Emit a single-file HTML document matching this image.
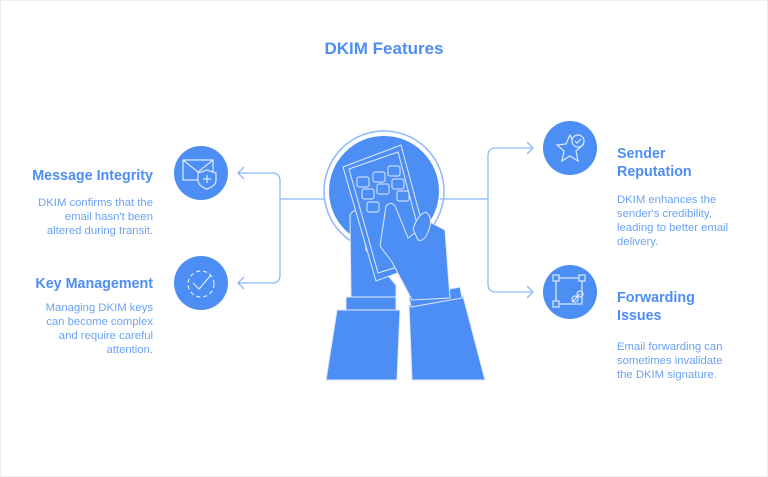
<!DOCTYPE html>
<html><head><style>
body{margin:0;width:768px;height:477px;background:#fff;overflow:hidden;font-family:"Liberation Sans",sans-serif}
svg{position:absolute;left:0;top:0}
</style></head><body>
<svg width="768" height="477" viewBox="0 0 768 477">
<rect x="0.5" y="0.5" width="767" height="476" fill="none" stroke="#eeeeee"/>
<text x="384" y="54" text-anchor="middle" font-size="17" font-weight="bold" fill="#4d8ef5">DKIM Features</text>
<g fill="none" stroke="#8db8fa" stroke-width="1.3">
<path d="M325 199H280M238 173H272Q280 173 280 181V275Q280 283 272 283H238"/>
<path d="M244 167L238 173L244 179M244 277L238 283L244 289"/>
<path d="M440 199H488M533 148H496Q488 148 488 156V284Q488 292 496 292H533"/>
<path d="M527 142L533 148L527 154M527 286L533 292L527 298"/>
</g>
<g fill="#4d8ef5">
<circle cx="201" cy="173" r="27"/><circle cx="201" cy="283" r="27"/>
<circle cx="570" cy="148" r="27"/><circle cx="570" cy="292" r="27"/>
</g>
<g fill="none" stroke="#dfeafe" stroke-width="1.2">
<rect x="183" y="160" width="30" height="20"/><path d="M183 160L198 172L213 160"/>
<path d="M207 170l9 3v7q0 6-9 9q-9-3-9-9v-7z" fill="#4d8ef5"/><path d="M207 175v8M203 179h8"/>
<circle cx="201" cy="284" r="13" stroke-dasharray="4 3"/><path d="M193 283l6 6l12-14"/>
<path d="M570 135l4 9l9 1l-7 6l2 10l-8-5l-8 5l2-10l-7-6l9-1z"/><circle cx="578" cy="141" r="6" fill="#4d8ef5"/><path d="M575 141l2 2l4-4"/>
<rect x="556" y="278" width="26" height="26"/><path d="M572 302l6-6M576 298l4-4"/><circle cx="575" cy="299" r="3"/><circle cx="580" cy="294" r="3"/>
</g>
<g fill="#4d8ef5" stroke="#dfeafe" stroke-width="1.2">
<rect x="553" y="275" width="6" height="6"/><rect x="579" y="275" width="6" height="6"/><rect x="553" y="301" width="6" height="6"/>
</g>
<circle cx="384" cy="191" r="60" fill="none" stroke="#8db8fa" stroke-width="1.5"/>
<circle cx="384" cy="191" r="55" fill="#4d8ef5"/>
<g fill="#4d8ef5" stroke="#dfeafe" stroke-width="1">
<path d="M326 380L337 310H400L397 380Z"/>
<path d="M412 380L409 305L463 296L485 380Z"/>
<path d="M346 297H396V310H346Z"/>
<path d="M409 297L460 287L462 298L411 307Z"/>
<path d="M350 215Q356 206 362 214L366 250L396 285L396 297H351Z"/>
<path d="M343 167L401 145L432 260L376 281Z"/>
<path d="M349 169L398 152L426 258L378 273Z" fill="none"/>
<path d="M386 206Q392 200 396 208L408 238L430 222L445 230L450 298L412 300L392 262L380 246Z"/>
<path d="M413 229Q418 214 426 212Q434 218 428 232Q424 242 418 240Z"/>
</g>
<g fill="none" stroke="#dfeafe" stroke-width="1">
<rect x="357" y="177" width="12" height="10" rx="2"/><rect x="373" y="172" width="12" height="10" rx="2"/><rect x="388" y="166" width="12" height="10" rx="2"/>
<rect x="362" y="189" width="12" height="10" rx="2"/><rect x="377" y="184" width="12" height="10" rx="2"/><rect x="392" y="179" width="12" height="10" rx="2"/>
<rect x="367" y="202" width="12" height="10" rx="2"/><rect x="397" y="191" width="12" height="10" rx="2"/>
</g>
<g font-size="14.3" font-weight="bold" fill="#4d8ef5">
<text x="153" y="180" text-anchor="end">Message Integrity</text>
<text x="153" y="288" text-anchor="end">Key Management</text>
<text x="617" y="158">Sender</text><text x="617" y="176">Reputation</text>
<text x="617" y="302">Forwarding</text><text x="617" y="320">Issues</text>
</g>
<g font-size="11.3" fill="#6aa2f6">
<text text-anchor="end"><tspan x="153" y="206">DKIM confirms that the</tspan><tspan x="153" y="220">email hasn't been</tspan><tspan x="153" y="234">altered during transit.</tspan></text>
<text text-anchor="end"><tspan x="153" y="311">Managing DKIM keys</tspan><tspan x="153" y="325">can become complex</tspan><tspan x="153" y="339">and require careful</tspan><tspan x="153" y="353">attention.</tspan></text>
<text><tspan x="617" y="203">DKIM enhances the</tspan><tspan x="617" y="217">sender's credibility,</tspan><tspan x="617" y="231">leading to better email</tspan><tspan x="617" y="245">delivery.</tspan></text>
<text><tspan x="617" y="350">Email forwarding can</tspan><tspan x="617" y="364">sometimes invalidate</tspan><tspan x="617" y="378">the DKIM signature.</tspan></text>
</g>
</svg>
</body></html>
